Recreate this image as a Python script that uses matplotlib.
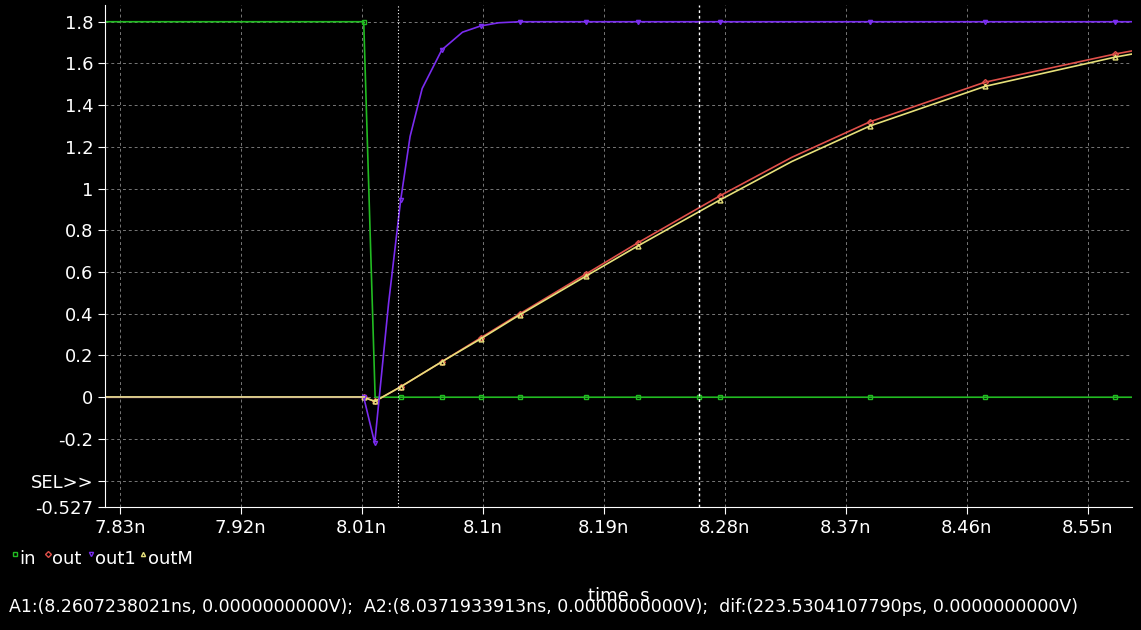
import numpy as np
import matplotlib.pyplot as plt

# time in ns
t_in = [7.819, 8.0115, 8.020, 8.039, 8.0696, 8.0986, 8.1276, 8.1767, 8.2154, 8.2607, 8.2764, 8.388, 8.4736, 8.5703, 8.583]
v_in = [1.8, 1.8, 0, 0, 0, 0, 0, 0, 0, 0, 0, 0, 0, 0, 0]

t_out1 = [7.819, 8.0115, 8.0197, 8.030, 8.039, 8.046, 8.055, 8.0696, 8.085, 8.0986, 8.112, 8.1276, 8.1767, 8.2154, 8.2764, 8.388, 8.4736, 8.5703, 8.583]
v_out1 = [0, 0, -0.22, 0.45, 0.945, 1.25, 1.48, 1.665, 1.75, 1.78, 1.795, 1.8, 1.8, 1.8, 1.8, 1.8, 1.8, 1.8, 1.8]

t_ramp = [7.819, 8.0115, 8.0197, 8.039, 8.0696, 8.0986, 8.1276, 8.1767, 8.2154, 8.2764, 8.330, 8.388, 8.4736, 8.5703, 8.583]
v_out = [0, 0, -0.02, 0.05, 0.17, 0.285, 0.40, 0.59, 0.74, 0.965, 1.15, 1.32, 1.51, 1.645, 1.66]
v_outM = [0, 0, -0.02, 0.05, 0.17, 0.28, 0.395, 0.58, 0.725, 0.945, 1.13, 1.30, 1.49, 1.63, 1.645]

# times at which the simulator draws a marker
t_marks = [8.0115, 8.0197, 8.039, 8.0696, 8.0986, 8.1276, 8.1767, 8.2154, 8.2607, 8.2764, 8.388, 8.4736, 8.5703]

xticks = [7.83, 7.92, 8.01, 8.10, 8.19, 8.28, 8.37, 8.46, 8.55]
xtick_labels = ["7.83n", "7.92n", "8.01n", "8.1n", "8.19n", "8.28n", "8.37n", "8.46n", "8.55n"]
yticks = [1.8, 1.6, 1.4, 1.2, 1, 0.8, 0.6, 0.4, 0.2, 0, -0.2, -0.4, -0.527]
ytick_labels = ["1.8", "1.6", "1.4", "1.2", "1", "0.8", "0.6", "0.4", "0.2", "0", "-0.2", "SEL>>", "-0.527"]
cursor_a1 = 8.2607238021
cursor_a2 = 8.0371933913

fig = plt.figure(figsize=(11.41, 6.30), dpi=100, facecolor="black")
ax = fig.add_axes([0.092, 0.195, 0.9, 0.797], facecolor="black")

green, red, purple, yellow = "#22bb22", "#e0504a", "#7a2cf0", "#e6e07a"


def draw(t, v, c, m, ms=3):
    t = np.array(t)
    v = np.array(v)
    ax.plot(t, v, color=c, lw=1.2)
    sel = np.isin(t, t_marks)
    if c == green:
        sel[2] = False
    ax.plot(t[sel], v[sel], ls="none", marker=m, ms=ms, mfc="none", mec=c)


draw(t_in, v_in, green, "s")
draw(t_ramp, v_out, red, "D")
draw(t_ramp, v_outM, yellow, "^", 3.5)
draw(t_out1, v_out1, purple, "v")
ax.plot(t_ramp[:2], v_outM[:2], color=yellow, lw=1.2)

ax.axvline(cursor_a1, color="white", ls=(0, (2, 2)), lw=1)
ax.axvline(cursor_a2, color="white", ls=(0, (1, 2)), lw=0.8)

ax.set_xlim(7.819, 8.583)
ax.set_ylim(-0.527, 1.88)
ax.set_xticks(xticks)
ax.set_xticklabels(xtick_labels)
ax.set_yticks(yticks)
ax.set_yticklabels(ytick_labels)
ax.grid(True, color="#777777", ls=(0, (3, 3)), lw=0.7)
for s in ["top", "right"]:
    ax.spines[s].set_visible(False)
for s in ["left", "bottom"]:
    ax.spines[s].set_color("white")
ax.tick_params(colors="white", labelsize=13, length=5)
ax.set_ylabel("V", color="white", fontsize=14, labelpad=40)
ax.set_xlabel("time, s", color="white", fontsize=13, labelpad=36)

fig.text(0.008, 0.028, "A1:(8.2607238021ns, 0.0000000000V);  A2:(8.0371933913ns, 0.0000000000V);  dif:(223.5304107790ps, 0.0000000000V)",
         color="white", fontsize=12.5)
items = [("in", green, "s"), ("out", red, "D"), ("out1", purple, "v"), ("outM", yellow, "^")]
x = 0.01
for name, c, m in items:
    ax.plot([x + 0.003], [0.12], transform=fig.transFigure, marker=m, ms=3, mfc="none", mec=c, ls="none", clip_on=False)
    fig.text(x + 0.007, 0.105, name, color="white", fontsize=13)
    x += 0.012 + 0.0085 * len(name)

fig.savefig("out.png", dpi=100, facecolor="black")
